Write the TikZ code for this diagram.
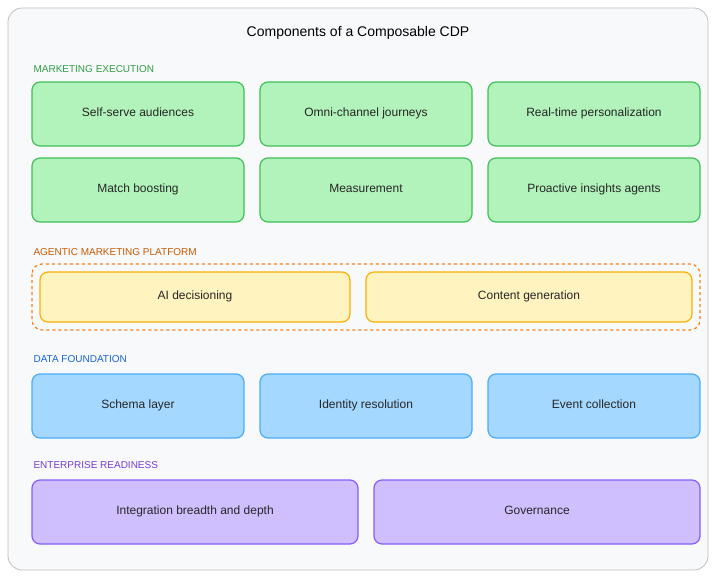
\documentclass[tikz,border=0pt]{standalone}
\usepackage{fontspec}
\setmainfont{Liberation Sans}
\begin{document}
\begin{tikzpicture}[x=1pt,y=-1pt,
 box/.style={draw,line width=1.2pt,rounded corners=8pt,font=\fontsize{12}{14}\selectfont,text=black!85,text height=0.75em,text depth=0.22em},
 g/.style={box,fill={rgb,255:red,178;green,242;blue,187},draw={rgb,255:red,64;green,192;blue,87}},
 yl/.style={box,fill={rgb,255:red,255;green,243;blue,191},draw={rgb,255:red,250;green,176;blue,5}},
 bl/.style={box,fill={rgb,255:red,165;green,216;blue,255},draw={rgb,255:red,77;green,171;blue,247}},
 pu/.style={box,fill={rgb,255:red,208;green,191;blue,255},draw={rgb,255:red,132;green,94;blue,247}},
 sec/.style={anchor=west,font=\fontsize{10}{12}\selectfont}]
\useasboundingbox (0,0) rectangle (716,576);
\draw[rounded corners=14pt,fill={rgb,255:red,248;green,249;blue,250},draw=black!25,line width=0.8pt] (8,8) rectangle (708,570);
\node (title) at (358,33) {\fontsize{14}{16}\selectfont Components of a Composable CDP};
\node[sec,text={rgb,255:red,47;green,158;blue,68}] (s1) at (30,69) {MARKETING EXECUTION};
\node[sec,text={rgb,255:red,200;green,90;blue,0}] (s2) at (30,252) {AGENTIC MARKETING PLATFORM};
\node[sec,text={rgb,255:red,25;green,100;blue,210}] (s3) at (30,359) {DATA FOUNDATION};
\node[sec,text={rgb,255:red,120;green,60;blue,210}] (s4) at (30,465) {ENTERPRISE READINESS};
\path[g] (32,82) rectangle node (a1) {Self-serve audiences} (244,146);
\path[g] (260,82) rectangle node (a2) {Omni-channel journeys} (472,146);
\path[g] (488,82) rectangle node (a3) {Real-time personalization} (700,146);
\path[g] (32,158) rectangle node (a4) {Match boosting} (244,222);
\path[g] (260,158) rectangle node (a5) {Measurement} (472,222);
\path[g] (488,158) rectangle node (a6) {Proactive insights agents} (700,222);
\draw[dashed,line width=1.2pt,rounded corners=10pt,draw={rgb,255:red,253;green,126;blue,20}] (32,264) rectangle (700,330);
\path[yl] (40,272) rectangle node (b1) {AI decisioning} (350,322);
\path[yl] (366,272) rectangle node (b2) {Content generation} (692,322);
\path[bl] (32,374) rectangle node (c1) {Schema layer} (244,438);
\path[bl] (260,374) rectangle node (c2) {Identity resolution} (472,438);
\path[bl] (488,374) rectangle node (c3) {Event collection} (700,438);
\path[pu] (32,480) rectangle node (d1) {Integration breadth and depth} (358,544);
\path[pu] (374,480) rectangle node (d2) {Governance} (700,544);
\end{tikzpicture}
\end{document}
